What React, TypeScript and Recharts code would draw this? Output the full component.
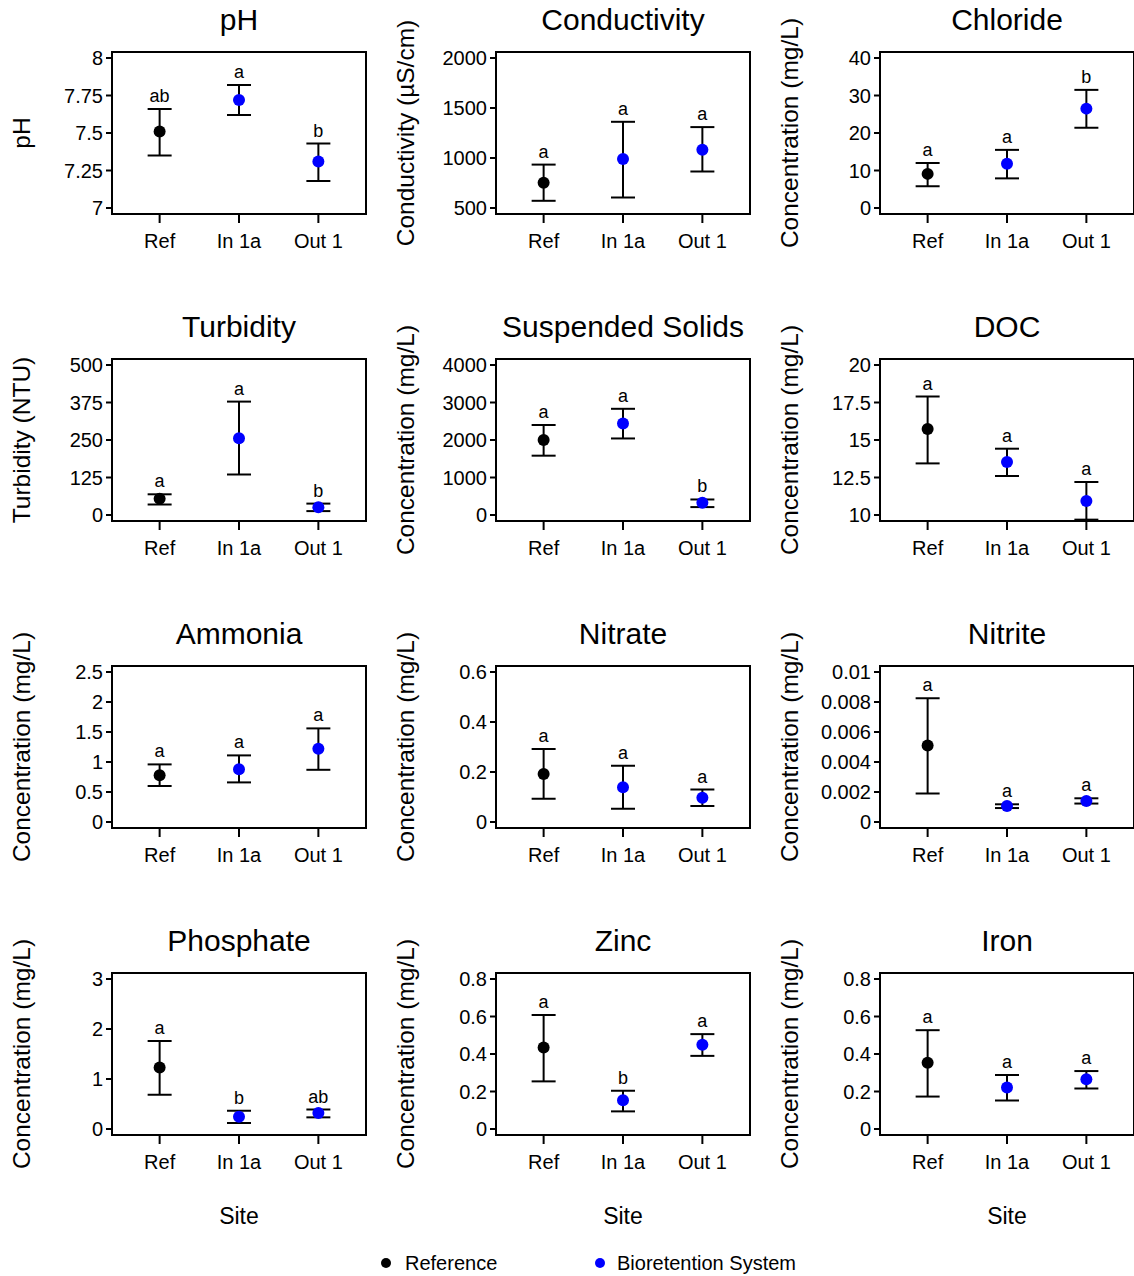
import { ScatterChart, Scatter, XAxis, YAxis, ErrorBar, ReferenceArea } from "recharts";

const sites = ["Ref", "In 1a", "Out 1"];
const siteX = [1, 2, 3];

// pH
const phMean = [7.51, 7.72, 7.31];
const phLower = [7.35, 7.62, 7.18];
const phUpper = [7.66, 7.82, 7.43];
const phLetters = ["ab", "a", "b"];
const phTicks = [7, 7.25, 7.5, 7.75, 8];

// Conductivity
const condMean = [752, 990, 1082];
const condLower = [572, 605, 865];
const condUpper = [934, 1362, 1309];
const condLetters = ["a", "a", "a"];
const condTicks = [500, 1000, 1500, 2000];

// Chloride
const clMean = [9.1, 11.8, 26.5];
const clLower = [5.8, 7.9, 21.4];
const clUpper = [12.0, 15.5, 31.5];
const clLetters = ["a", "a", "b"];
const clTicks = [0, 10, 20, 30, 40];

// Turbidity
const turbMean = [54, 256, 26];
const turbLower = [35, 135, 13];
const turbUpper = [69, 378, 38];
const turbLetters = ["a", "a", "b"];
const turbTicks = [0, 125, 250, 375, 500];

// Suspended solids
const ssMean = [2000, 2437, 327];
const ssLower = [1582, 2041, 211];
const ssUpper = [2400, 2832, 414];
const ssLetters = ["a", "a", "b"];
const ssTicks = [0, 1000, 2000, 3000, 4000];

// DOC
const docMean = [15.74, 13.53, 10.93];
const docLower = [13.44, 12.6, 9.69];
const docUpper = [17.9, 14.42, 12.2];
const docLetters = ["a", "a", "a"];
const docTicks = [10, 12.5, 15, 17.5, 20];

// Ammonia
const nh3Mean = [0.78, 0.88, 1.22];
const nh3Lower = [0.6, 0.66, 0.87];
const nh3Upper = [0.96, 1.11, 1.56];
const nh3Letters = ["a", "a", "a"];
const nh3Ticks = [0, 0.5, 1, 1.5, 2, 2.5];

// Nitrate
const no3Mean = [0.192, 0.139, 0.097];
const no3Lower = [0.093, 0.053, 0.064];
const no3Upper = [0.292, 0.225, 0.13];
const no3Letters = ["a", "a", "a"];
const no3Ticks = [0, 0.2, 0.4, 0.6];

// Nitrite
const no2Mean = [0.0051, 0.00107, 0.0014];
const no2Lower = [0.0019, 0.00093, 0.00123];
const no2Upper = [0.00825, 0.00118, 0.00158];
const no2Letters = ["a", "a", "a"];
const no2Ticks = [0, 0.002, 0.004, 0.006, 0.008, 0.01];

// Phosphate
const po4Mean = [1.23, 0.245, 0.32];
const po4Lower = [0.685, 0.12, 0.233];
const po4Upper = [1.76, 0.365, 0.39];
const po4Letters = ["a", "b", "ab"];
const po4Ticks = [0, 1, 2, 3];

// Zinc
const znMean = [0.435, 0.153, 0.449];
const znLower = [0.254, 0.094, 0.39];
const znUpper = [0.608, 0.204, 0.506];
const znLetters = ["a", "b", "a"];
const znTicks = [0, 0.2, 0.4, 0.6, 0.8];

// Iron
const feMean = [0.353, 0.221, 0.265];
const feLower = [0.173, 0.152, 0.216];
const feUpper = [0.527, 0.288, 0.309];
const feLetters = ["a", "a", "a"];
const feTicks = [0, 0.2, 0.4, 0.6, 0.8];

const CONC = "Concentration (mg/L)";

const panels = [
  { title: "pH", yLabel: "pH", mean: phMean, lower: phLower, upper: phUpper, letters: phLetters, ticks: phTicks },
  { title: "Conductivity", yLabel: "Conductivity (µS/cm)", mean: condMean, lower: condLower, upper: condUpper, letters: condLetters, ticks: condTicks },
  { title: "Chloride", yLabel: CONC, mean: clMean, lower: clLower, upper: clUpper, letters: clLetters, ticks: clTicks },
  { title: "Turbidity", yLabel: "Turbidity (NTU)", mean: turbMean, lower: turbLower, upper: turbUpper, letters: turbLetters, ticks: turbTicks },
  { title: "Suspended Solids", yLabel: CONC, mean: ssMean, lower: ssLower, upper: ssUpper, letters: ssLetters, ticks: ssTicks },
  { title: "DOC", yLabel: CONC, mean: docMean, lower: docLower, upper: docUpper, letters: docLetters, ticks: docTicks },
  { title: "Ammonia", yLabel: CONC, mean: nh3Mean, lower: nh3Lower, upper: nh3Upper, letters: nh3Letters, ticks: nh3Ticks },
  { title: "Nitrate", yLabel: CONC, mean: no3Mean, lower: no3Lower, upper: no3Upper, letters: no3Letters, ticks: no3Ticks },
  { title: "Nitrite", yLabel: CONC, mean: no2Mean, lower: no2Lower, upper: no2Upper, letters: no2Letters, ticks: no2Ticks },
  { title: "Phosphate", yLabel: CONC, mean: po4Mean, lower: po4Lower, upper: po4Upper, letters: po4Letters, ticks: po4Ticks },
  { title: "Zinc", yLabel: CONC, mean: znMean, lower: znLower, upper: znUpper, letters: znLetters, ticks: znTicks },
  { title: "Iron", yLabel: CONC, mean: feMean, lower: feLower, upper: feUpper, letters: feLetters, ticks: feTicks },
];

const CELL_W = 384;
const CELL_H = 307;
const FONT = "'Liberation Sans', Arial, sans-serif";

const Dot = (color: string) => (props: any) => <circle cx={props.cx} cy={props.cy} r={6} fill={color} />;

const Letter = (props: any) => (
  <text x={props.cx} y={props.cy - 7} textAnchor="middle" fontSize={18} fill="#000" fontFamily={FONT}>
    {props.payload.letter}
  </text>
);

function Panel({ p, left, top }: { p: any; left: number; top: number }) {
  const rows = sites.map((s, i) => ({
    site: s,
    x: siteX[i],
    y: p.mean[i],
    err: [p.mean[i] - p.lower[i], p.upper[i] - p.mean[i]],
  }));
  const letterRows = sites.map((s, i) => ({ site: s, x: siteX[i], y: p.upper[i], letter: p.letters[i] }));
  const lo = p.ticks[0];
  const hi = p.ticks[p.ticks.length - 1];
  const pad = (hi - lo) * 0.04;
  const yDomain = [lo - pad, hi + pad];

  return (
    <div style={{ position: "absolute", left, top, width: CELL_W, height: CELL_H }}>
      <div style={{ position: "absolute", left: 112, top: 3, width: 254, textAlign: "center", fontSize: 30, lineHeight: "34px" }}>
        {p.title}
      </div>
      <div
        style={{
          position: "absolute",
          left: 22,
          top: 133,
          transform: "translate(-50%, -50%) rotate(-90deg)",
          whiteSpace: "nowrap",
          fontSize: 24.5,
        }}
      >
        {p.yLabel}
      </div>
      <ScatterChart width={CELL_W} height={260} margin={{ top: 52, right: 18, bottom: 0, left: 0 }}>
        <ReferenceArea x1={0.4} x2={3.6} y1={yDomain[0]} y2={yDomain[1]} fill="none" stroke="#000" strokeWidth={2} fillOpacity={0} ifOverflow="visible" />
        <XAxis
          type="number"
          dataKey="x"
          domain={[0.4, 3.6]}
          ticks={siteX}
          tickFormatter={(v: number) => sites[v - 1]}
          allowDataOverflow
          height={46}
          tickSize={9}
          tickMargin={11}
          axisLine={false}
          tickLine={{ stroke: "#000", strokeWidth: 2 }}
          tick={{ fill: "#000", fontSize: 20, fontFamily: FONT }}
        />
        <YAxis
          type="number"
          dataKey="y"
          domain={yDomain}
          ticks={p.ticks}
          allowDataOverflow
          width={112}
          tickSize={6}
          tickMargin={3}
          axisLine={false}
          tickLine={{ stroke: "#000", strokeWidth: 2 }}
          tick={{ fill: "#000", fontSize: 20, fontFamily: FONT }}
        />
        <Scatter name="Reference" data={rows.slice(0, 1)} shape={Dot("#000000")} isAnimationActive={false}>
          <ErrorBar dataKey="err" direction="y" width={12} stroke="#000" strokeWidth={2} />
        </Scatter>
        <Scatter name="Bioretention System" data={rows.slice(1)} shape={Dot("#0000ff")} isAnimationActive={false}>
          <ErrorBar dataKey="err" direction="y" width={12} stroke="#000" strokeWidth={2} />
        </Scatter>
        <Scatter name="letters" data={letterRows} shape={Letter} isAnimationActive={false} />
      </ScatterChart>
    </div>
  );
}

export default function App() {
  return (
    <div
      style={{
        position: "absolute",
        left: 0,
        top: 0,
        width: 1134,
        height: 1276,
        background: "#fff",
        overflow: "hidden",
        fontFamily: FONT,
        color: "#000",
      }}
    >
      {panels.map((p, i) => (
        <Panel key={p.title} p={p} left={(i % 3) * CELL_W} top={Math.floor(i / 3) * CELL_H} />
      ))}
      {[0, 1, 2].map((c) => (
        <div
          key={c}
          style={{ position: "absolute", left: c * CELL_W + 112, top: 1202, width: 254, textAlign: "center", fontSize: 23, lineHeight: "28px" }}
        >
          Site
        </div>
      ))}
      <div style={{ position: "absolute", left: 381, top: 1258, width: 10, height: 10, borderRadius: 5, background: "#000" }} />
      <div style={{ position: "absolute", left: 405, top: 1251, fontSize: 20, lineHeight: "24px" }}>Reference</div>
      <div style={{ position: "absolute", left: 595, top: 1258, width: 10, height: 10, borderRadius: 5, background: "#0000ff" }} />
      <div style={{ position: "absolute", left: 617, top: 1251, fontSize: 20, lineHeight: "24px" }}>Bioretention System</div>
    </div>
  );
}
